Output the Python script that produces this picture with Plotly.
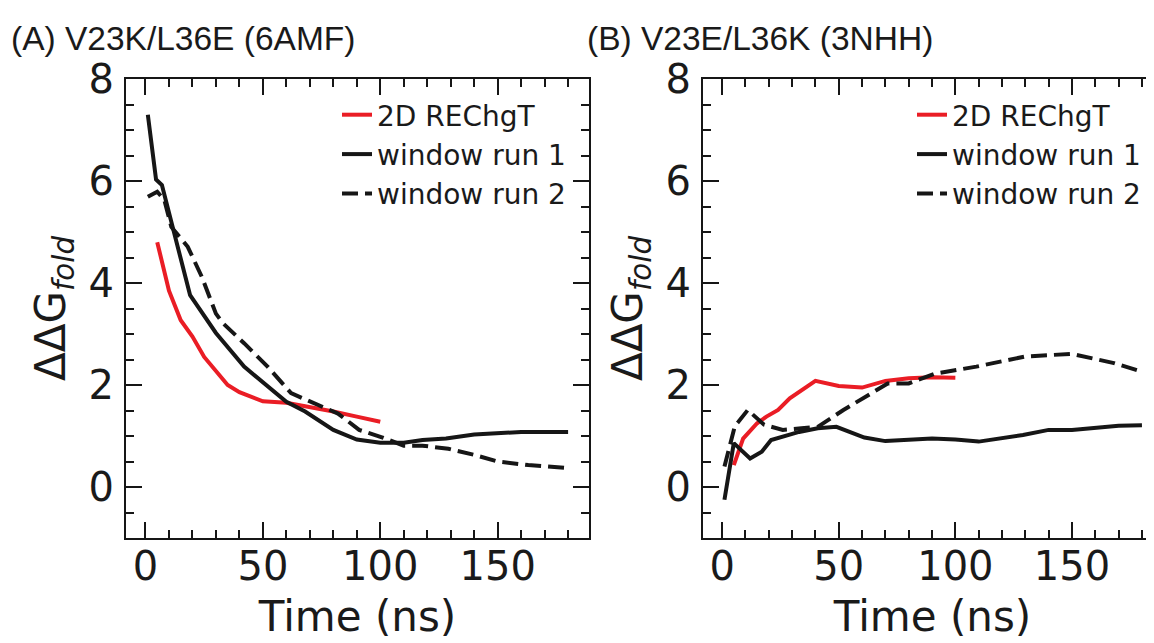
import plotly.graph_objects as go

# ---------------- data ----------------
# Panel A: V23K/L36E (6AMF)
a_rechgt_t = [5, 10, 15, 20, 25, 35, 40, 50, 60, 70, 80, 90, 100]
a_rechgt_g = [4.8, 3.85, 3.27, 2.95, 2.55, 2.0, 1.86, 1.68, 1.65, 1.57, 1.48, 1.38, 1.28]

a_run1_t = [1, 4.5, 7, 19, 30, 42, 60, 68, 80, 90, 100, 110, 118, 128, 140, 160, 180]
a_run1_g = [7.3, 6.03, 5.92, 3.76, 3.02, 2.36, 1.67, 1.48, 1.12, 0.93, 0.87, 0.87, 0.92, 0.95, 1.03, 1.08, 1.08]

a_run2_t = [1, 5, 8, 11, 18, 24, 30, 33, 42, 52, 62, 72, 82, 91, 101, 110, 118, 129, 140, 150, 163, 180]
a_run2_g = [5.69, 5.79, 5.63, 5.1, 4.71, 4.12, 3.4, 3.21, 2.82, 2.36, 1.84, 1.64, 1.44, 1.12, 0.97, 0.81,
            0.81, 0.75, 0.63, 0.5, 0.43, 0.37]

# Panel B: V23E/L36K (3NHH)
b_rechgt_t = [5, 9, 15, 19, 24, 29, 40, 50, 60, 70, 80, 90, 100]
b_rechgt_g = [0.43, 0.95, 1.25, 1.38, 1.51, 1.74, 2.08, 1.98, 1.95, 2.08, 2.13, 2.15, 2.14]

b_run1_t = [1, 5, 12, 17, 21, 33, 41, 49, 61, 70, 90, 100, 110, 129, 140, 150, 170, 180]
b_run1_g = [-0.25, 0.86, 0.56, 0.69, 0.92, 1.08, 1.15, 1.18, 0.97, 0.9, 0.95, 0.93, 0.89, 1.02, 1.12, 1.12, 1.2, 1.21]

b_run2_t = [1, 5.5, 7, 11, 18, 26, 34, 41, 52, 65, 71, 80, 91, 109, 130, 150, 168, 180]
b_run2_g = [0.4, 1.2, 1.28, 1.51, 1.22, 1.12, 1.15, 1.18, 1.51, 1.87, 2.03, 2.03, 2.22, 2.36, 2.56, 2.61, 2.43, 2.26]

series_names = ["2D REChgT", "window run 1", "window run 2"]
panel_titles = ["(A) V23K/L36E (6AMF)", "(B) V23E/L36K (3NHH)"]
x_ticks = [0, 50, 100, 150]
y_ticks = [0, 2, 4, 6, 8]

# ---------------- style ----------------
RED = "#ea1d25"
BLK = "#161616"
LW = 4
DASH = "16px,7px"
W, H = 1154, 643
OFF = 8  # page body margin offset
TICKFONT = dict(family="DejaVu Sans", size=40, color="#1a1a1a")
TITLEFONT = dict(family="DejaVu Sans", size=42, color="#1a1a1a")
LEGFONT = dict(family="DejaVu Sans", size=28, color="#1a1a1a")


def fx(px):
    return (px - OFF) / W


def fy(py):
    return 1 - (py - OFF) / H


fig = go.Figure()

panels = [
    ("x", "y", "legend", a_rechgt_t, a_rechgt_g, a_run1_t, a_run1_g, a_run2_t, a_run2_g),
    ("x2", "y2", "legend2", b_rechgt_t, b_rechgt_g, b_run1_t, b_run1_g, b_run2_t, b_run2_g),
]
for xa, ya, lg, rt, rg, s1t, s1g, s2t, s2g in panels:
    fig.add_trace(go.Scatter(x=rt, y=rg, mode="lines", name=series_names[0], xaxis=xa, yaxis=ya,
                             legend=lg, line=dict(color=RED, width=LW)))
    fig.add_trace(go.Scatter(x=s1t, y=s1g, mode="lines", name=series_names[1], xaxis=xa, yaxis=ya,
                             legend=lg, line=dict(color=BLK, width=LW)))
    fig.add_trace(go.Scatter(x=s2t, y=s2g, mode="lines", name=series_names[2], xaxis=xa, yaxis=ya,
                             legend=lg, line=dict(color=BLK, width=LW, dash=DASH)))

ydom = [fy(538), fy(79)]


def xaxis_style(dom, rng, anchor):
    return dict(domain=dom, range=rng, anchor=anchor, tickvals=x_ticks, ticks="inside", ticklen=16,
                tickwidth=2, tickcolor=BLK, showline=True, linewidth=2, linecolor=BLK, mirror="ticks",
                showgrid=False, zeroline=False, tickfont=TICKFONT, ticklabelstandoff=-8, automargin=False,
                minor=dict(dtick=10, tick0=0, ticks="inside", ticklen=8, tickwidth=2, tickcolor=BLK,
                           showgrid=False),
                title=dict(text="Time (ns)", font=TITLEFONT, standoff=14))


def yaxis_style(anchor):
    return dict(domain=ydom, range=[-1, 8], anchor=anchor, tickvals=y_ticks, ticks="inside", ticklen=16,
                tickwidth=2, tickcolor=BLK, showline=True, linewidth=2, linecolor=BLK, mirror="ticks",
                showgrid=False, zeroline=False, tickfont=TICKFONT, ticklabelstandoff=2, automargin=False,
                minor=dict(dtick=0.5, tick0=0, ticks="inside", ticklen=8, tickwidth=2, tickcolor=BLK,
                           showgrid=False),
                title=dict(text="ΔΔG<sub><i>fold</i></sub>", font=TITLEFONT, standoff=10))


fig.update_layout(
    width=W, height=H,
    autosize=False,
    margin=dict(l=0, r=0, t=0, b=0, autoexpand=False),
    paper_bgcolor="white", plot_bgcolor="white",
    xaxis=xaxis_style([fx(126), fx(589)], [-8.3, 188.9], "y"),
    yaxis=yaxis_style("x"),
    xaxis2=xaxis_style([fx(703), 1.0], [-8.2, 188.6], "y2"),
    yaxis2=yaxis_style("x2"),
    legend=dict(x=fx(337), y=fy(90), xanchor="left", yanchor="top", font=LEGFONT,
                bgcolor="rgba(0,0,0,0)", tracegroupgap=0),
    legend2=dict(x=fx(912), y=fy(90), xanchor="left", yanchor="top", font=LEGFONT,
                 bgcolor="rgba(0,0,0,0)", tracegroupgap=0),
    showlegend=True,
)

fig.add_annotation(text=panel_titles[0], xref="paper", yref="paper", x=fx(9), y=fy(38),
                   xanchor="left", yanchor="middle", showarrow=False,
                   font=dict(family="Liberation Sans", size=33.5, color="#1a1a1a"))
fig.add_annotation(text=panel_titles[1], xref="paper", yref="paper", x=fx(585), y=fy(38),
                   xanchor="left", yanchor="middle", showarrow=False,
                   font=dict(family="Liberation Sans", size=33.5, color="#1a1a1a"))

fig.write_html("out.html")
